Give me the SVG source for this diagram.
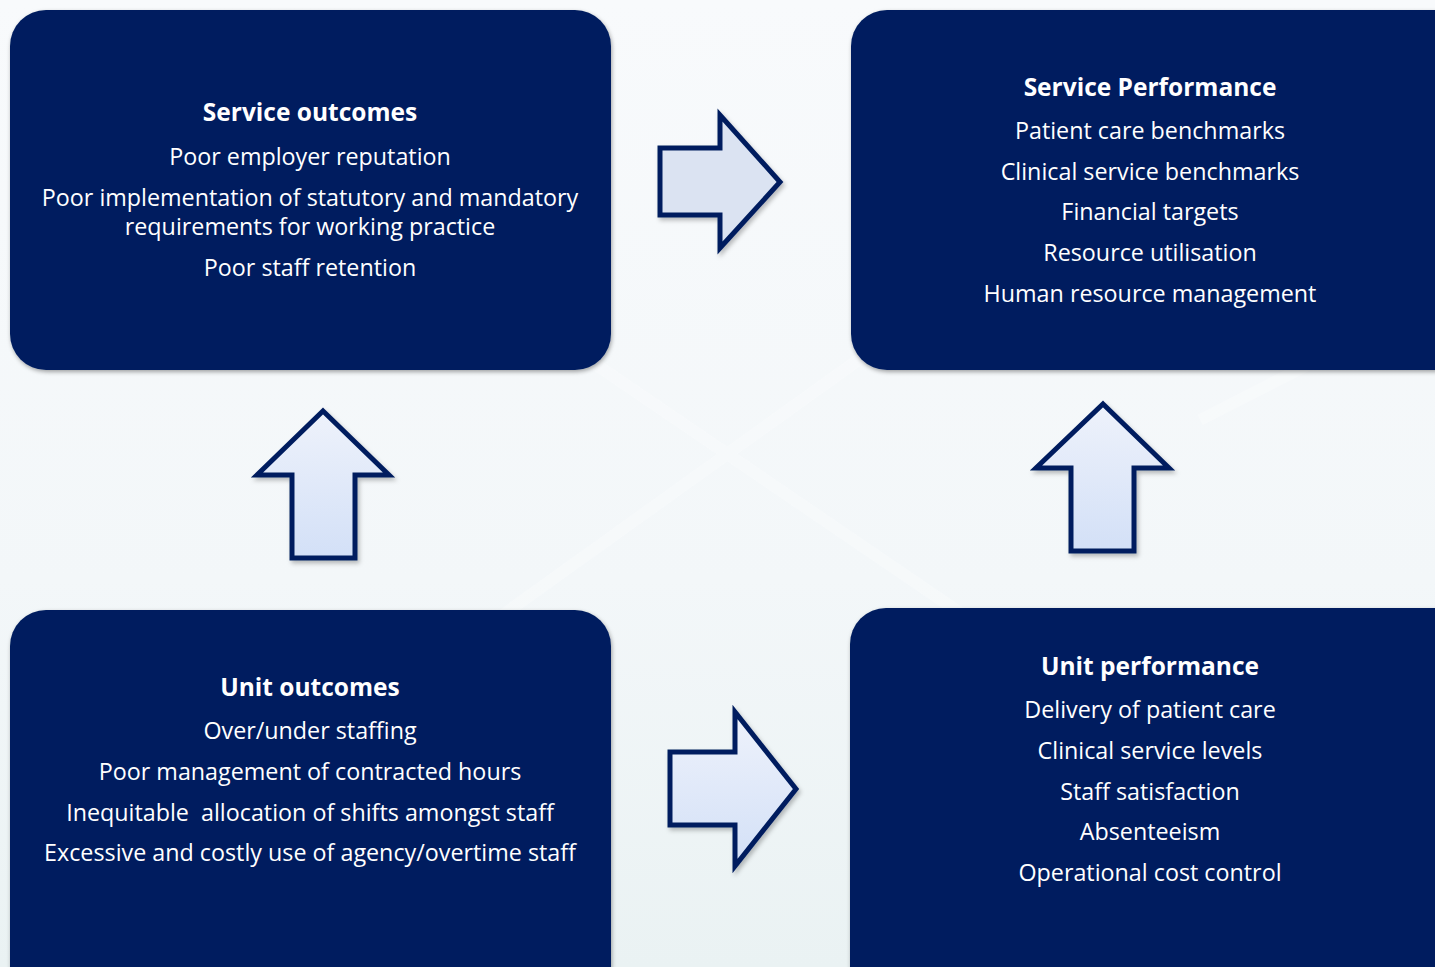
<svg xmlns="http://www.w3.org/2000/svg" width="1435" height="967" viewBox="0 0 1435 967">
<defs>
<linearGradient id="bg" x1="0" y1="0" x2="0" y2="1">
<stop offset="0" stop-color="#f8fafc"/>
<stop offset="0.6" stop-color="#f3f7f9"/>
<stop offset="1" stop-color="#eaf2f3"/>
</linearGradient>
<linearGradient id="af" x1="0" y1="0" x2="0" y2="1">
<stop offset="0" stop-color="#eef2fb"/>
<stop offset="1" stop-color="#d3e0f7"/>
</linearGradient>
<filter id="sh" x="-5%" y="-5%" width="110%" height="110%">
<feDropShadow dx="1" dy="2" stdDeviation="2" flood-color="#000" flood-opacity="0.35"/>
</filter>
<filter id="ash" x="-10%" y="-10%" width="120%" height="120%">
<feDropShadow dx="2" dy="3" stdDeviation="2" flood-color="#000" flood-opacity="0.25"/>
</filter>
</defs>
<style>
.box{fill:#001f5f;filter:url(#sh)}
.arr{fill:url(#af);stroke:#001f5f;stroke-width:5;stroke-linejoin:miter;filter:url(#ash)}
.flat{fill:#dbe3f2}
text{font-family:"Open Sans","Liberation Sans",sans-serif;fill:#ffffff;text-anchor:middle;font-size:23.3px}
.t{font-weight:bold;font-size:24.5px}
</style>
<rect width="1435" height="967" fill="url(#bg)"/>
<g opacity="0.25" stroke="#ffffff" stroke-width="12" fill="none">
<path d="M560 340 L1000 640"/>
<path d="M900 330 L440 660"/>
<path d="M1200 420 L1435 300"/>
</g>
<g id="service-outcomes">
<rect class="box" x="10" y="10" width="601" height="360" rx="36"/>
<text class="t" x="310" y="121">Service outcomes</text>
<text x="310" y="165">Poor employer reputation</text>
<text x="310" y="206">Poor implementation of statutory and mandatory</text>
<text x="310" y="235">requirements for working practice</text>
<text x="310" y="276">Poor staff retention</text>
</g>
<g id="service-performance">
<rect class="box" x="851" y="10" width="640" height="360" rx="36"/>
<text class="t" x="1150" y="96">Service Performance</text>
<text x="1150" y="139">Patient care benchmarks</text>
<text x="1150" y="180">Clinical service benchmarks</text>
<text x="1150" y="220">Financial targets</text>
<text x="1150" y="261">Resource utilisation</text>
<text x="1150" y="302">Human resource management</text>
</g>
<g id="unit-outcomes">
<rect class="box" x="10" y="610" width="601" height="400" rx="36"/>
<text class="t" x="310" y="696">Unit outcomes</text>
<text x="310" y="739">Over/under staffing</text>
<text x="310" y="780">Poor management of contracted hours</text>
<text x="310" y="821" style="white-space:pre">Inequitable  allocation of shifts amongst staff</text>
<text x="310" y="861">Excessive and costly use of agency/overtime staff</text>
</g>
<g id="unit-performance">
<rect class="box" x="850" y="608" width="640" height="400" rx="36"/>
<text class="t" x="1150" y="675">Unit performance</text>
<text x="1150" y="718">Delivery of patient care</text>
<text x="1150" y="759">Clinical service levels</text>
<text x="1150" y="800">Staff satisfaction</text>
<text x="1150" y="840">Absenteeism</text>
<text x="1150" y="881">Operational cost control</text>
</g>
<g id="connectors">
<path class="arr flat" d="M660 148 L720 148 L720 115 L780 182 L720 248 L720 215 L660 215 Z"/>
<path class="arr" d="M323 411 L389 475 L355 475 L355 558 L292 558 L292 475 L257 475 Z"/>
<path class="arr" d="M670 752 L735 752 L735 712 L796 789 L735 866 L735 825 L670 825 Z"/>
<path class="arr" d="M1103 404 L1169 468 L1134 468 L1134 551 L1071 551 L1071 468 L1036 468 Z"/>
</g>
</svg>
